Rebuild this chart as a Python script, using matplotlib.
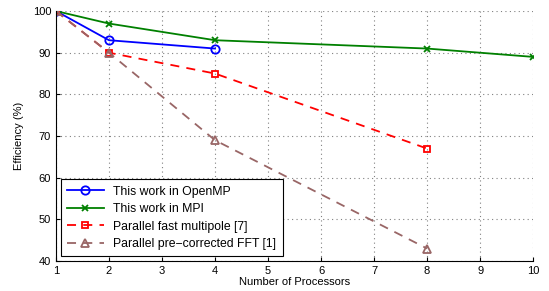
import matplotlib
matplotlib.use("Agg")
import matplotlib.pyplot as plt

plt.rcParams["font.family"] = ["Liberation Sans", "DejaVu Sans"]

procs_omp = [1, 2, 4]
eff_omp = [100, 93, 91]
procs_mpi = [1, 2, 4, 8, 10]
eff_mpi = [100, 97, 93, 91, 89]
procs_fmm = [1, 2, 4, 8]
eff_fmm = [100, 90, 85, 67]
procs_fft = [1, 2, 4, 8]
eff_fft = [100, 90, 69, 43]

fig = plt.figure(figsize=(5.49, 2.91), dpi=100)
ax = fig.add_axes([0.102, 0.103, 0.869, 0.859])

ax.plot(procs_omp, eff_omp, color="blue", marker="o", ms=6, mfc="none", mew=1.3,
        lw=1.3, label="This work in OpenMP")
ax.plot(procs_mpi, eff_mpi, color=(0, 0.5, 0), marker="x", ms=4, mew=1.3,
        lw=1.3, label="This work in MPI")
ax.plot(procs_fmm, eff_fmm, color="red", marker="s", ms=5, mfc="none", mew=1.3,
        lw=1.3, ls=(0, (5, 4)), label="Parallel fast multipole [7]")
ax.plot(procs_fft, eff_fft, color=(0.6, 0.4, 0.4), marker="^", ms=6, mfc="none",
        mew=1.3, lw=1.3, ls=(0, (5, 4)), label="Parallel pre\u2212corrected FFT [1]")

ax.set_xlim(1, 10)
ax.set_ylim(40, 100)
ax.set_xticks(range(1, 11))
ax.set_yticks(range(40, 101, 10))
ax.grid(True, ls=(0, (1, 3)), color="0.5", lw=0.8)
for s in ["top", "right"]:
    ax.spines[s].set_visible(False)
ax.tick_params(direction="in", labelsize=8, length=3)
ax.set_xlabel("Number of Processors", fontsize=8, labelpad=1)
ax.set_ylabel("Efficiency (%)", fontsize=8, labelpad=6)

leg = ax.legend(loc="lower left", fontsize=8.8, fancybox=False, framealpha=1,
                edgecolor="black", handlelength=3.0, borderaxespad=0.4,
                labelspacing=0.45, numpoints=1, borderpad=0.5)
leg.get_frame().set_linewidth(0.8)

fig.savefig("out.png", dpi=100)
